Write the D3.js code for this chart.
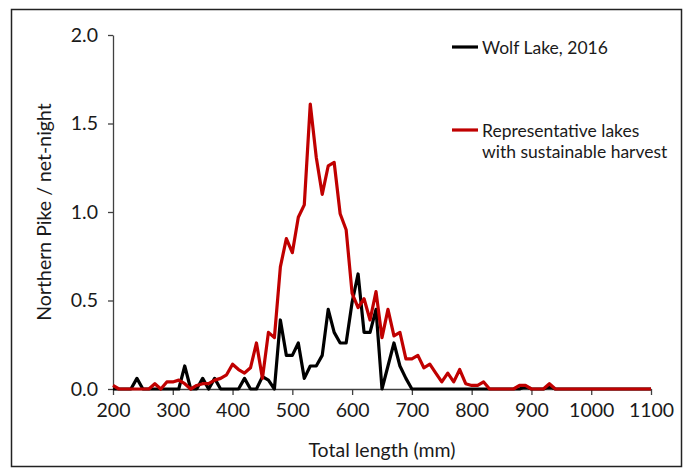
<!DOCTYPE html>
<html>
<head>
<meta charset="utf-8">
<script src="https://cdn.jsdelivr.net/npm/d3@7"></script>
<style>
  html, body { margin: 0; padding: 0; background: #fff; }
  svg { display: block; }
  text { font-family: Lato, "Open Sans", sans-serif; fill: #1a1a1a; }
</style>
</head>
<body>
<svg id="chart" width="688" height="470"></svg>
<script>
const lengths = [200,210,220,230,240,250,260,270,280,290,300,310,320,330,340,350,360,370,380,390,
  400,410,420,430,440,450,460,470,480,490,500,510,520,530,540,550,560,570,580,590,
  600,610,620,630,640,650,660,670,680,690,700,710,720,730,740,750,760,770,780,790,
  800,810,820,830,840,850,860,870,880,890,900,910,920,930,940,950,960,970,980,990,
  1000,1010,1020,1030,1040,1050,1060,1070,1080,1090,1100];

const wolfLake2016 = [0,0,0,0,0.06,0,0,0,0,0,0,0,0.13,0,0,0.06,0,0.06,0,0,
  0,0,0.06,0,0,0.07,0.05,0,0.39,0.19,0.19,0.26,0.06,0.13,0.13,0.19,0.45,0.32,0.26,0.26,
  0.49,0.65,0.32,0.32,0.45,0,0.13,0.26,0.13,0.06,0,0,0,0,0,0,0,0,0,0,
  0,0,0,0,0,0,0,0,0,0.015,0,0,0,0.015,0,0,0,0,0,0,
  0,0,0,0,0,0,0,0,0,0,0];

const representative = [0.02,0,0,0,0,0,0,0.03,0,0.04,0.04,0.05,0.03,0,0.02,0.03,0.03,0.05,0.06,0.08,
  0.14,0.11,0.09,0.12,0.26,0.06,0.32,0.29,0.69,0.85,0.77,0.97,1.04,1.61,1.31,1.10,1.26,1.28,0.99,0.90,
  0.54,0.46,0.51,0.39,0.55,0.29,0.45,0.30,0.32,0.17,0.17,0.19,0.12,0.14,0.09,0.04,0.09,0.04,0.11,0.03,
  0.02,0.02,0.04,0,0,0,0,0,0.02,0.02,0,0,0,0.03,0,0,0,0,0,0,
  0,0,0,0,0,0,0,0,0,0,0];

const xTicks = [200,300,400,500,600,700,800,900,1000,1100];
const yTicks = [0,0.5,1.0,1.5,2.0];
const seriesNames = ["Wolf Lake, 2016", ["Representative lakes", "with sustainable harvest"]];

const svg = d3.select("#chart");
const fs = 19.5;

// outer frame
svg.append("rect").attr("x", 11.5).attr("y", 9.5).attr("width", 670).attr("height", 457)
  .attr("fill", "none").attr("stroke", "#222").attr("stroke-width", 1.5);

const x = d3.scaleLinear().domain([200, 1100]).range([113, 651]);
const y = d3.scaleLinear().domain([0, 2]).range([389, 35]);

const axisColor = "#404040";

const gx = svg.append("g").attr("transform", `translate(0,${y(0)})`)
  .call(d3.axisBottom(x).tickValues(xTicks).tickFormat(d3.format("d")).tickSize(6).tickSizeOuter(0).tickPadding(8));
const gy = svg.append("g").attr("transform", `translate(${x(200)},0)`)
  .call(d3.axisLeft(y).tickValues(yTicks).tickFormat(d3.format(".1f")).tickSize(5).tickSizeOuter(0).tickPadding(10));

[gx, gy].forEach(g => {
  g.select(".domain").attr("stroke", axisColor).attr("stroke-width", 1.3);
  g.selectAll(".tick line").attr("stroke", axisColor).attr("stroke-width", 1.3);
  g.selectAll(".tick text").attr("font-size", fs).attr("font-family", "Lato, sans-serif").attr("fill", "#1a1a1a");
});

const line = vals => d3.line()
  .x((d, i) => x(lengths[i]))
  .y(d => y(d))(vals);

svg.append("path").attr("d", line(wolfLake2016))
  .attr("fill", "none").attr("stroke", "#000").attr("stroke-width", 3.2)
  .attr("stroke-linejoin", "round");
svg.append("path").attr("d", line(representative))
  .attr("fill", "none").attr("stroke", "#c00000").attr("stroke-width", 3.2)
  .attr("stroke-linejoin", "round");

// axis titles
svg.append("text").attr("x", 382).attr("y", 449).attr("text-anchor", "middle")
  .attr("dominant-baseline", "central").attr("font-size", fs).text("Total length (mm)");
svg.append("text").attr("transform", "translate(43,212) rotate(-90)").attr("text-anchor", "middle")
  .attr("dominant-baseline", "central").attr("font-size", fs).text("Northern Pike / net-night");

// legend
const lg = svg.append("g");
lg.append("line").attr("x1", 452).attr("x2", 478).attr("y1", 47).attr("y2", 47)
  .attr("stroke", "#000").attr("stroke-width", 3.2);
lg.append("text").attr("x", 482).attr("y", 47).attr("dominant-baseline", "central")
  .attr("font-size", 17.5).text(seriesNames[0]);
lg.append("line").attr("x1", 452).attr("x2", 478).attr("y1", 130).attr("y2", 130)
  .attr("stroke", "#c00000").attr("stroke-width", 3.2);
seriesNames[1].forEach((t, i) => {
  lg.append("text").attr("x", 482).attr("y", 130 + i * 21).attr("dominant-baseline", "central")
    .attr("font-size", 17.5).text(t);
});
</script>
</body>
</html>
